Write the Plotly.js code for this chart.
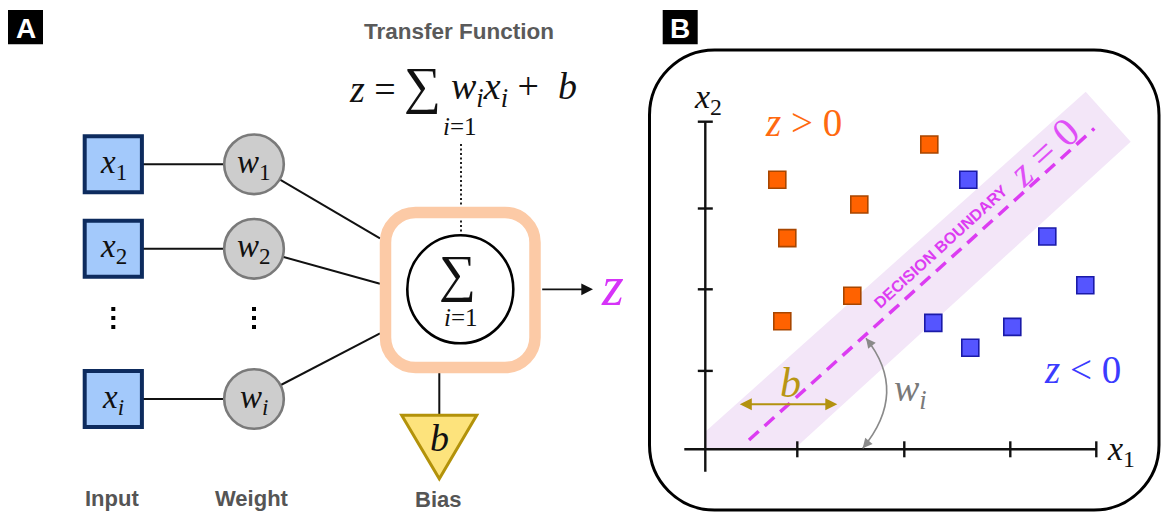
<!DOCTYPE html>
<html>
<head>
<meta charset="utf-8">
<script src="https://cdn.plot.ly/plotly-3.0.1.min.js"></script>
<style>html,body{margin:0;padding:0;background:#fff;}#chart{width:1161px;height:512px;}</style>
</head>
<body>
<div id="chart"></div>
<script>
// ---------- Panel A : perceptron diagram (node layout, pixel units) ----------
const inputLabels  = ['<i>x</i><sub>1</sub>', '<i>x</i><sub>2</sub>', '<i>x</i><sub><i>i</i></sub>'];
const weightLabels = ['<i>w</i><sub>1</sub>', '<i>w</i><sub>2</sub>', '<i>w</i><sub><i>i</i></sub>'];
const nodeRowY     = [164.3, 248.8, 399];
const boxEntryY    = [238.3, 283.7, 333.3];
const ellipsisY    = [309, 318, 327];
const columnLabels = ['Input', 'Weight', 'Bias'];

// ---------- Panel B : decision boundary data (x1, x2 units) ----------
const orangeX = [2.24, 0.72, 1.54, 0.82, 1.47, 0.77];
const orangeY = [3.81, 3.37, 3.06, 2.64, 1.92, 1.60];
const blueX   = [2.63, 3.42, 3.80, 2.28, 3.07, 2.65];
const blueY   = [3.37, 2.66, 2.05, 1.58, 1.53, 1.27];
const xTicks  = [0.92, 1.99, 3.05];
const yTicks  = [0.98, 2.00, 3.01];
const bandX   = [0, 0, 3.804, 4.254, 0.887];
const bandY   = [0, 0.22, 4.47, 3.845, 0];
const boundaryX = [0.437, 3.89];
const boundaryY = [0.116, 4.01];

// ---------- layout constants ----------
const W = 1161, H = 512;
const inX = 113.3, wX = 254;
const OX = 705.3, OY = 449.3, UX = 100, UY = 80, LEFT = 655;   // panel B origin (px) and unit sizes
const MAG = '#dc3cf2';
const SERIF = 'Liberation Serif, DejaVu Serif, serif';
const SANS = 'Liberation Sans, Arial, sans-serif';
const AX = {color: '#111', width: 2.4};

function rrPath(x0, y0, x1, y1, r) {
  const k = 0.4477 * r;
  return `M${x0+r},${y0} L${x1-r},${y0} C${x1-k},${y0} ${x1},${y0+k} ${x1},${y0+r} ` +
         `L${x1},${y1-r} C${x1},${y1-k} ${x1-k},${y1} ${x1-r},${y1} ` +
         `L${x0+r},${y1} C${x0+k},${y1} ${x0},${y1-k} ${x0},${y1-r} ` +
         `L${x0},${y0+r} C${x0},${y0+k} ${x0+k},${y0} ${x0+r},${y0} Z`;
}
function polyPath(xs, ys) {
  return 'M' + xs.map((x, i) => x + ',' + ys[i]).join(' L') + ' Z';
}

const shapes = [];
const ann = [];
const P = {xref: 'x', yref: 'y'};
const Q = {xref: 'x2', yref: 'y2'};

// panel labels
[[8, 'A'], [662.7, 'B']].forEach(([x, t]) => {
  shapes.push({...P, type: 'rect', x0: x, x1: x + 35, y0: 10, y1: 44.3, fillcolor: '#000', line: {width: 0}});
  ann.push({...P, x: x + 17.5, y: 28, text: '<b>' + t + '</b>', showarrow: false,
    font: {family: SANS, size: 28, color: '#fff'}});
});

// connection lines A
nodeRowY.forEach((y, i) => {
  shapes.push({...P, type: 'line', x0: inX, x1: wX, y0: y, y1: y, line: {color: '#111', width: 2}});
  shapes.push({...P, type: 'line', x0: wX, x1: 380, y0: y, y1: boxEntryY[i], line: {color: '#111', width: 2}});
});
// dotted line from formula
shapes.push({...P, type: 'line', x0: 461, x1: 461, y0: 144, y1: 236, line: {color: '#222', width: 2, dash: '2px,2.5px'}});
// bias stem
shapes.push({...P, type: 'line', x0: 439.3, x1: 439.3, y0: 372, y1: 415, line: {color: '#111', width: 2}});
// orange rounded frame
shapes.push({...P, type: 'path', path: rrPath(385.5, 212.5, 535, 367.5, 30), line: {color: '#fccaa6', width: 11.5}, fillcolor: 'rgba(0,0,0,0)'});
// summation circle
shapes.push({...P, type: 'circle', x0: 407.3, x1: 513.3, y0: 235.3, y1: 343.3, line: {color: '#000', width: 2.6}, fillcolor: '#fff'});
// input boxes and weight circles
nodeRowY.forEach((y, i) => {
  shapes.push({...P, type: 'rect', x0: inX - 28.6, x1: inX + 28.6, y0: y - 28, y1: y + 28, fillcolor: '#a3c9fb', line: {color: '#0d2b5e', width: 4}});
  shapes.push({...P, type: 'circle', x0: wX - 29.8, x1: wX + 29.8, y0: y - 29.8, y1: y + 29.8, fillcolor: '#cdcdcd', line: {color: '#7a7a7a', width: 2.6}});
  ann.push({...P, x: inX, y: y, text: inputLabels[i], showarrow: false, font: {family: SERIF, size: 33, color: '#111'}});
  ann.push({...P, x: wX, y: y, text: weightLabels[i], showarrow: false, font: {family: SERIF, size: 33, color: '#111'}});
});
// bias triangle
shapes.push({...P, type: 'path', path: 'M401.7,415.3 L476.7,415.3 L439.3,478.7 Z', fillcolor: '#fde37c', line: {color: '#b3920a', width: 3}});

// texts A
ann.push({...P, x: 459, y: 31, text: '<b>Transfer Function</b>', showarrow: false, font: {family: SANS, size: 22.5, color: '#5a5a5a'}});
ann.push({...P, x: 347, y: 89, xanchor: 'left', text: '<i>z</i> =', showarrow: false, font: {family: SERIF, size: 38, color: '#111'}});
ann.push({...P, x: 422, y: 86, text: '∑', showarrow: false, font: {family: SERIF, size: 52, color: '#111'}});
ann.push({...P, x: 449, y: 89, xanchor: 'left', text: '<i>w</i><sub><i>i</i></sub><i>x</i><sub><i>i</i></sub> +  <i>b</i>', showarrow: false, font: {family: SERIF, size: 38, color: '#111'}});
ann.push({...P, x: 460, y: 126, text: '<i>i</i>=1', showarrow: false, font: {family: SERIF, size: 25, color: '#111'}});
ann.push({...P, x: 457, y: 274, text: '∑', showarrow: false, font: {family: SERIF, size: 52, color: '#111'}});
ann.push({...P, x: 461, y: 317, text: '<i>i</i>=1', showarrow: false, font: {family: SERIF, size: 25, color: '#111'}});
ann.push({...P, x: 439.3, y: 437.5, text: '<i>b</i>', showarrow: false, font: {family: SERIF, size: 38, color: '#111'}});
ann.push({...P, x: 612, y: 286, text: '<i>z</i>', showarrow: false, font: {family: SERIF, size: 56, color: '#d633f8'}});
ann.push({...P, x: 593, y: 289.3, ax: 540.7, ay: 289.3, axref: 'x', ayref: 'y', text: '', showarrow: true,
  arrowhead: 2, arrowsize: 1.3, arrowwidth: 1.8, arrowcolor: '#111'});
[[111.7, 498], [252.3, 498], [437.5, 499]].forEach(([x, y], i) => {
  ann.push({...P, x: x, y: y, text: '<b>' + columnLabels[i] + '</b>', showarrow: false, font: {family: SANS, size: 22, color: '#555'}});
});

// ---------- Panel B ----------
shapes.push({...P, type: 'path', path: rrPath(649.5, 50, 1159, 510, 65), line: {color: '#000', width: 3}, fillcolor: 'rgba(0,0,0,0)'});
shapes.push({...Q, type: 'path', path: polyPath(bandX, bandY), fillcolor: '#f3e6f8', line: {width: 0}, layer: 'below'});
// axes
shapes.push({...Q, type: 'line', x0: 0, x1: 0, y0: -0.28, y1: 4.095, line: AX});
shapes.push({...Q, type: 'line', x0: -0.21, x1: 3.91, y0: 0, y1: 0, line: AX});
shapes.push({...Q, type: 'line', xsizemode: 'pixel', xanchor: 0, x0: -7.5, x1: 7.5, y0: 4.095, y1: 4.095, line: AX});
shapes.push({...Q, type: 'line', ysizemode: 'pixel', yanchor: 0, x0: 3.91, x1: 3.91, y0: -8, y1: 8, line: AX});
yTicks.forEach(t => shapes.push({...Q, type: 'line', xsizemode: 'pixel', xanchor: 0, x0: -7.5, x1: 7.5, y0: t, y1: t, line: AX}));
xTicks.forEach(t => shapes.push({...Q, type: 'line', ysizemode: 'pixel', yanchor: 0, x0: t, x1: t, y0: -8, y1: 8, line: AX}));
// curved w_i arrow
shapes.push({...P, type: 'path', path: 'M866,338.3 Q909,392 862.7,448.3', line: {color: '#8a8a8a', width: 1.6}, fillcolor: 'rgba(0,0,0,0)'});
ann.push({...P, x: 866, y: 338.3, ax: 871, ay: 344.6, axref: 'x', ayref: 'y', text: '', showarrow: true, arrowhead: 2, arrowsize: 1.2, arrowwidth: 1.6, arrowcolor: '#8a8a8a'});
ann.push({...P, x: 862.7, y: 448.3, ax: 868, ay: 442, axref: 'x', ayref: 'y', text: '', showarrow: true, arrowhead: 2, arrowsize: 1.2, arrowwidth: 1.6, arrowcolor: '#8a8a8a'});
// b double arrow
ann.push({...P, x: 837.3, y: 404.3, ax: 738.3, ay: 404.3, axref: 'x', ayref: 'y', text: '', showarrow: true, arrowside: 'end+start',
  arrowhead: 2, arrowsize: 1.2, arrowwidth: 2, arrowcolor: '#b3920f'});

// texts B
ann.push({...P, x: 708, y: 99, text: '<i>x</i><sub>2</sub>', showarrow: false, font: {family: SERIF, size: 34, color: '#111'}});
ann.push({...P, x: 1121, y: 451, text: '<i>x</i><sub>1</sub>', showarrow: false, font: {family: SERIF, size: 34, color: '#111'}});
ann.push({...P, x: 803, y: 122, text: '<i>z</i> > 0', showarrow: false, font: {family: SERIF, size: 39, color: '#ff6a10'}});
ann.push({...P, x: 1082, y: 369, text: '<i>z</i> < 0', showarrow: false, font: {family: SERIF, size: 39, color: '#3b3bff'}});
ann.push({...P, x: 941, y: 246.7, text: '<b>DECISION BOUNDARY</b>', textangle: -42.3, showarrow: false, font: {family: SANS, size: 16, color: MAG}});
ann.push({...P, x: 1043, y: 152, text: '<i>z</i> = 0', textangle: -42.3, showarrow: false, font: {family: SERIF, size: 40, color: '#df4ff7'}});
ann.push({...P, x: 790.5, y: 383, text: '<i>b</i>', showarrow: false, font: {family: SERIF, size: 42, color: '#b89614'}});
ann.push({...P, x: 910, y: 391, text: '<i>w</i><sub><i>i</i></sub>', showarrow: false, font: {family: SERIF, size: 38, color: '#7a7a7a'}});

// ---------- traces ----------
const traces = [
  {x: [inX, inX, inX, wX, wX, wX], y: ellipsisY.concat(ellipsisY), xaxis: 'x', yaxis: 'y', mode: 'markers',
   marker: {symbol: 'square', size: 4, color: '#000'}, hoverinfo: 'skip'},
  {x: boundaryX, y: boundaryY, xaxis: 'x2', yaxis: 'y2', mode: 'lines',
   line: {color: MAG, width: 3.5, dash: '13px,8px'}, hoverinfo: 'skip'},
  {x: orangeX, y: orangeY, xaxis: 'x2', yaxis: 'y2', mode: 'markers', name: 'z > 0',
   marker: {symbol: 'square', size: 17, color: '#ff6200', line: {color: '#a84600', width: 1.6}}},
  {x: blueX, y: blueY, xaxis: 'x2', yaxis: 'y2', mode: 'markers', name: 'z < 0',
   marker: {symbol: 'square', size: 17, color: '#5555ff', line: {color: '#1a1aa8', width: 1.6}}}
];

const layout = {
  width: W, height: H, margin: {l: 0, r: 0, t: 0, b: 0},
  paper_bgcolor: '#fff', plot_bgcolor: 'rgba(0,0,0,0)', showlegend: false, hovermode: false,
  xaxis:  {range: [0, W], visible: false, fixedrange: true},
  yaxis:  {range: [H, 0], visible: false, fixedrange: true},
  xaxis2: {domain: [LEFT / W, 1], range: [-(OX - LEFT) / UX, (W - OX) / UX], anchor: 'y2', visible: false, fixedrange: true},
  yaxis2: {domain: [0, 1], range: [-(H - OY) / UY, OY / UY], anchor: 'x2', visible: false, fixedrange: true},
  shapes: shapes, annotations: ann
};
Plotly.newPlot('chart', traces, layout, {staticPlot: true, displayModeBar: false});
</script>
</body>
</html>
